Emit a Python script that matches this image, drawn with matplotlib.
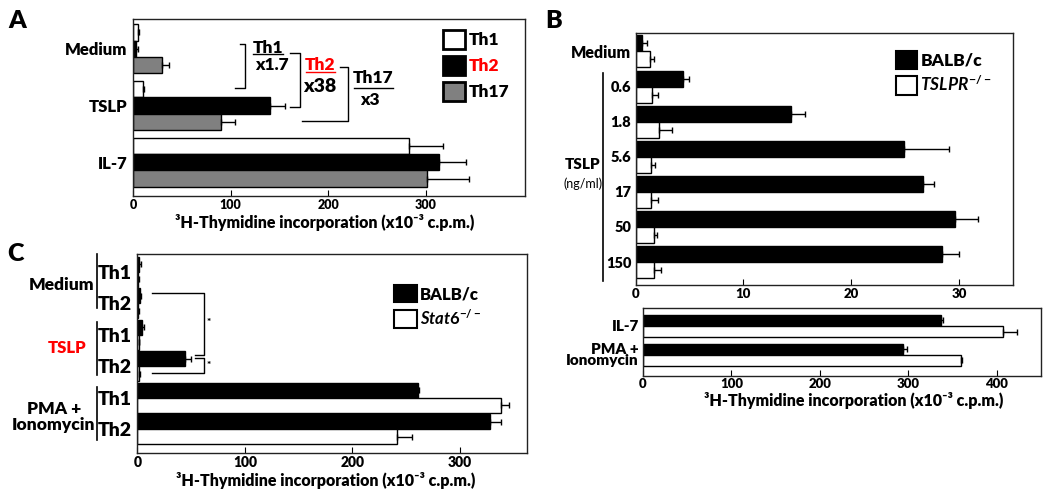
import numpy as np
import matplotlib
matplotlib.use('Agg')
import matplotlib.pyplot as plt
from matplotlib.patches import Patch
from matplotlib.transforms import blended_transform_factory

plt.rcParams['font.family'] = ['Lato', 'DejaVu Sans']
plt.rcParams['font.weight'] = 'heavy'
plt.rcParams['axes.labelweight'] = 'heavy'
plt.rcParams['mathtext.fontset'] = 'custom'
plt.rcParams['mathtext.rm'] = 'Lato:bold'
plt.rcParams['mathtext.it'] = 'Lato:italic:bold'
plt.rcParams['mathtext.bf'] = 'Lato:bold'
plt.rcParams['axes.linewidth'] = 1.0
plt.rcParams['axes.edgecolor'] = '#222222'

# ---- data ----
# panel A
a_groups = ['Medium', 'TSLP', 'IL-7']
a_th1 = [5, 10, 283]
a_th1_err = [1.2, 1.5, 35]
a_th2 = [3.5, 140, 314]
a_th2_err = [1.3, 16, 27]
a_th17 = [30, 90, 301]
a_th17_err = [7, 15, 44]

# panel B (top)
b_doses = ['Medium', '0.6', '1.8', '5.6', '17', '50', '150']
b_balbc = [0.6, 4.4, 14.4, 24.9, 26.7, 29.6, 28.4]
b_balbc_err = [0.5, 0.6, 1.3, 4.2, 1.0, 2.2, 1.6]
b_tslpr = [1.3, 1.5, 2.2, 1.45, 1.45, 1.7, 1.7]
b_tslpr_err = [0.4, 0.55, 1.2, 0.4, 0.6, 0.3, 0.7]

# panel B (bottom)
b2_groups = ['IL-7', 'PMA +\nIonomycin']
b2_balbc = [337, 294]
b2_balbc_err = [3, 5]
b2_tslpr = [407, 360]
b2_tslpr_err = [16, 1]

# panel C
c_groups = ['Medium', 'TSLP', 'PMA +\nIonomycin']
c_rows = ['Th1', 'Th2', 'Th1', 'Th2', 'Th1', 'Th2']
c_balbc = [2, 2.5, 4.7, 44.7, 261, 328]
c_balbc_err = [1.5, 1, 1.8, 5, 1, 10]
c_stat6 = [1, 1, 1.5, 1.5, 338, 241]
c_stat6_err = [1, 0.5, 0.5, 1, 8, 14]

xlab = '³H-Thymidine incorporation (x10⁻³ c.p.m.)'


def hbars(ax, pos, vals, errs, color, h):
    ax.barh(pos, vals, height=h, color=color, edgecolor='black', linewidth=1,
            xerr=[np.zeros(len(vals)), errs],
            error_kw=dict(ecolor='black', elinewidth=1, capsize=2.5, capthick=1))


def bracket(ax, x, y0, y1, xtop, xbot, color='black'):
    ax.plot([xtop, x, x, xbot], [y0, y0, y1, y1], color=color, lw=1, clip_on=False)


W, H = 1050, 498
fig = plt.figure(figsize=(W / 100, H / 100), dpi=100)


def box(l, t, r, b):
    return [l / W, 1 - b / H, (r - l) / W, (b - t) / H]


axA = fig.add_axes(box(133, 19, 525, 196))
axB = fig.add_axes(box(635.5, 33, 1013, 285))
axB2 = fig.add_axes(box(643, 307.7, 1040.7, 375.7))
axC = fig.add_axes(box(137.3, 254, 526.7, 453))

# ---- panel A ----
y = np.arange(len(a_groups))
bh = 0.283
hbars(axA, y - bh, a_th1, a_th1_err, 'white', bh)
hbars(axA, y, a_th2, a_th2_err, 'black', bh)
hbars(axA, y + bh, a_th17, a_th17_err, '#808080', bh)
axA.set_ylim(2.59, -0.52)
axA.set_xlim(0, 402)
axA.set_yticks(y, a_groups, fontsize=12)
axA.set_xticks([0, 100, 200, 300])
axA.tick_params(axis='y', length=0, pad=4)
axA.tick_params(axis='x', direction='in', length=4, labelsize=9, pad=2)
axA.set_xlabel(xlab, fontsize=11.5, labelpad=2)
axA.xaxis.label.set_x(0.49)

bracket(axA, 115, -0.08, 0.70, 110, 105)
bracket(axA, 171, 0.08, 1.035, 161, 161)
bracket(axA, 220.5, 0.33, 1.27, 212, 173)
axA.text(138.5, -0.01, 'Th1', ha='center', va='center', fontsize=12.5)
axA.plot([123.4, 153.5], [0.097, 0.097], color='black', lw=1)
axA.text(142.6, 0.283, 'x1.7', ha='center', va='center', fontsize=12.5)
axA.text(192, 0.29, 'Th2', ha='center', va='center', fontsize=12.5, color='red')
axA.plot([177.4, 207.2], [0.42, 0.42], color='red', lw=1)
axA.text(191.5, 0.66, 'x38', ha='center', va='center', fontsize=14)
axA.text(246.5, 0.52, 'Th17', ha='center', va='center', fontsize=12.5)
axA.plot([227, 267], [0.687, 0.687], color='black', lw=1)
axA.text(242.7, 0.906, 'x3', ha='center', va='center', fontsize=12.5)

hA = [Patch(facecolor=c, edgecolor='black', linewidth=2) for c in ['white', 'black', '#808080']]
legA = axA.legend(hA, ['Th1', 'Th2', 'Th17'], loc='upper left', bbox_to_anchor=(0.791, 0.938),
                  frameon=False, fontsize=12.5, handlelength=1.27, handleheight=1.27,
                  handletextpad=0.2, labelspacing=0.43, borderpad=0, borderaxespad=0)
legA.get_texts()[1].set_color('red')

# ---- panel B top ----
yb = np.arange(len(b_doses))
bhb = 0.456
hbars(axB, yb - bhb / 2, b_balbc, b_balbc_err, 'black', bhb)
hbars(axB, yb + bhb / 2, b_tslpr, b_tslpr_err, 'white', bhb)
axB.set_ylim(6.655, -0.527)
axB.set_xlim(0, 35)
axB.set_yticks(yb, b_doses, fontsize=10.5)
axB.get_yticklabels()[0].set_fontsize(11.5)
axB.set_xticks([0, 10, 20, 30])
axB.tick_params(axis='y', length=0, pad=3)
axB.tick_params(axis='x', direction='in', length=4, labelsize=9.5, pad=2)
tB = blended_transform_factory(axB.transAxes, axB.transData)
axB.plot([-0.086, -0.086], [0.61, 6.54], color='black', lw=1.2, transform=tB, clip_on=False)
axB.text(-0.139, 3.23, 'TSLP', ha='center', va='center', fontsize=11, transform=tB)
axB.text(-0.139, 3.77, '(ng/ml)', ha='center', va='center', fontsize=9,
         fontweight='normal', transform=tB)
hB = [Patch(facecolor=c, edgecolor='black', linewidth=1.5) for c in ['black', 'white']]
axB.legend(hB, ['BALB/c', r'$\mathit{TSLPR}^{-/-}$'], loc='upper left', bbox_to_anchor=(0.69, 0.93),
           frameon=False, fontsize=12.5, handlelength=1.2, handleheight=1.28,
           handletextpad=0.2, labelspacing=0.33, borderpad=0, borderaxespad=0)

# ---- panel B bottom ----
yb2 = np.arange(len(b2_groups))
bhb2 = 0.386
hbars(axB2, yb2 - bhb2 / 2, b2_balbc, b2_balbc_err, 'black', bhb2)
hbars(axB2, yb2 + bhb2 / 2, b2_tslpr, b2_tslpr_err, 'white', bhb2)
axB2.set_ylim(1.74, -0.64)
axB2.set_xlim(0, 450)
axB2.set_yticks(yb2, b2_groups, fontsize=11)
for t in axB2.get_yticklabels():
    t.set_multialignment('right')
    t.set_linespacing(0.9)
axB2.set_xticks([0, 100, 200, 300, 400])
axB2.tick_params(axis='y', length=0, pad=3)
axB2.tick_params(axis='x', direction='in', length=4, labelsize=9.5, pad=2)
axB2.set_xlabel(xlab, fontsize=11.5, labelpad=1)
axB2.xaxis.label.set_x(0.53)

# ---- panel C ----
yc = np.arange(len(c_rows))
bhc = 0.476
hbars(axC, yc - bhc / 2, c_balbc, c_balbc_err, 'black', bhc)
hbars(axC, yc + bhc / 2, c_stat6, c_stat6_err, 'white', bhc)
axC.set_ylim(5.75, -0.57)
axC.set_xlim(0, 362)
axC.set_yticks(yc, c_rows, fontsize=14)
axC.set_xticks([0, 100, 200, 300])
axC.tick_params(axis='y', length=0, pad=4)
axC.tick_params(axis='x', direction='in', length=4, labelsize=10, pad=2)
axC.set_xlabel(xlab, fontsize=11.5, labelpad=2)
axC.xaxis.label.set_x(0.485)
tC = blended_transform_factory(axC.transAxes, axC.transData)
for (y0, y1) in [(-0.57, 1.14), (1.59, 3.27), (3.64, 5.33)]:
    axC.plot([-0.103, -0.103], [y0, y1], color='black', lw=1.2, transform=tC, clip_on=False)
axC.text(-0.109, 0.4, c_groups[0], ha='right', va='center', fontsize=12.5, transform=tC)
axC.text(-0.18, 2.42, c_groups[1], ha='center', va='center', fontsize=12, color='red', transform=tC)
axC.text(-0.214, 4.6, c_groups[2], ha='center', va='center', fontsize=12.5, transform=tC,
         linespacing=1.0)
bracket(axC, 62, 0.68, 2.64, 13.4, 53.8)
bracket(axC, 62, 2.73, 3.21, 53.8, 13.4)
axC.text(66.8, 1.62, '*', ha='center', va='center', fontsize=7)
axC.text(66.8, 2.98, '*', ha='center', va='center', fontsize=7)
hC = [Patch(facecolor=c, edgecolor='black', linewidth=1.5) for c in ['black', 'white']]
axC.legend(hC, ['BALB/c', r'$\mathit{Stat6}^{-/-}$'], loc='upper left', bbox_to_anchor=(0.659, 0.844),
           frameon=False, fontsize=12, handlelength=1.38, handleheight=1.2,
           handletextpad=0.2, labelspacing=0.36, borderpad=0, borderaxespad=0)

# panel letters
fig.text(17 / W, 1 - 21 / H, 'A', fontsize=18, ha='center', va='center')
fig.text(554 / W, 1 - 21 / H, 'B', fontsize=18, ha='center', va='center')
fig.text(16 / W, 1 - 254 / H, 'C', fontsize=18, ha='center', va='center')

fig.savefig('out.png', dpi=100)
